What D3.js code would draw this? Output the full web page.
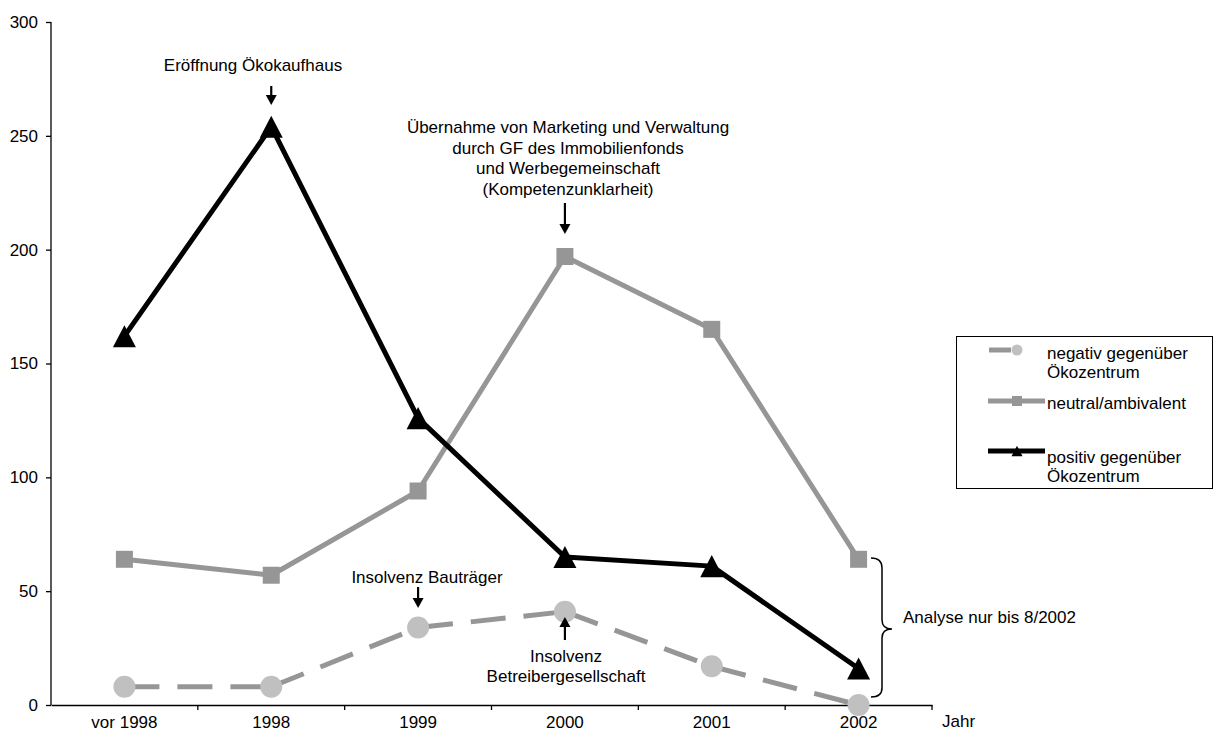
<!DOCTYPE html>
<html>
<head>
<meta charset="utf-8">
<script src="https://cdn.jsdelivr.net/npm/d3@7"></script>
<style>
  html, body { margin: 0; padding: 0; background: #fff; }
  svg { display: block; font-family: "Liberation Sans", Arial, sans-serif; }
</style>
</head>
<body>
<svg id="chart" width="1217" height="733"></svg>
<script>
// Categories and series values
const years = ["vor 1998", "1998", "1999", "2000", "2001", "2002"];
const negativ = [8, 8, 34, 41, 17, 0];
const neutral = [64, 57, 94, 197, 165, 64];
const positiv = [162, 254, 126, 65, 61, 16];
const yTicks = [0, 50, 100, 150, 200, 250, 300];

const seriesNames = {
  negativ: ["negativ gegenüber", "Ökozentrum"],
  neutral: ["neutral/ambivalent"],
  positiv: ["positiv gegenüber", "Ökozentrum"]
};

const svg = d3.select("#chart");
const FS = 17;

const x = d3.scaleBand().domain(years).range([51, 932]);
const y = d3.scaleLinear().domain([0, 300]).range([705, 22]);
const cx = d => x(d) + x.bandwidth() / 2;

// Triangle centred on its bounding box
const triType = {
  draw(ctx, size) {
    const w = Math.sqrt(size);
    const h = w * 0.96;
    ctx.moveTo(0, -h / 2);
    ctx.lineTo(w / 2, h / 2);
    ctx.lineTo(-w / 2, h / 2);
    ctx.closePath();
  }
};

// Y axis
const yAxis = d3.axisLeft(y).tickValues(yTicks).tickSize(5).tickPadding(8);
const gy = svg.append("g").attr("transform", "translate(51,0)").call(yAxis);
gy.select(".domain").attr("stroke", "#000").attr("stroke-width", 1.3).attr("d", "M0,22V705");
gy.selectAll(".tick line").attr("stroke", "#000").attr("stroke-width", 1.3);
gy.selectAll(".tick text").attr("font-size", FS).attr("font-family", "Liberation Sans, Arial, sans-serif").attr("fill", "#000");

// X axis with ticks at category boundaries
const xAxis = d3.axisBottom(x).tickSize(0).tickSizeOuter(0);
const gx = svg.append("g").attr("transform", "translate(0,705)").call(xAxis);
gx.select(".domain").attr("stroke", "#000").attr("stroke-width", 1.3);
gx.selectAll(".tick text").attr("font-size", FS).attr("font-family", "Liberation Sans, Arial, sans-serif")
  .attr("fill", "#000").attr("y", 23).attr("dy", 0);
const bounds = years.map(d => x(d)).concat([x(years[years.length - 1]) + x.bandwidth()]);
gx.selectAll(".bound").data(bounds.slice(1)).enter().append("line")
  .attr("x1", d => d).attr("x2", d => d).attr("y1", 0).attr("y2", 5)
  .attr("stroke", "#000").attr("stroke-width", 1.3);

svg.append("text").attr("x", 942).attr("y", 727).attr("font-size", FS).text("Jahr");

const line = d3.line().x((d, i) => cx(years[i])).y(d => y(d));

// negativ: dashed segments, pattern restarting at each point
const negPts = negativ.map((v, i) => [cx(years[i]), y(v)]);
svg.append("g").selectAll("path").data(d3.pairs(negPts)).enter().append("path")
  .attr("d", d => d3.line()(d))
  .attr("fill", "none").attr("stroke", "#969696").attr("stroke-width", 5)
  .attr("stroke-dasharray", "35,18");
svg.append("g").selectAll("path").data(negativ).enter().append("path")
  .attr("transform", (d, i) => `translate(${cx(years[i])},${y(d)})`)
  .attr("d", d3.symbol(d3.symbolCircle, Math.PI * 11 * 11))
  .attr("fill", "#c0c0c0");

// neutral
svg.append("path").datum(neutral).attr("d", line)
  .attr("fill", "none").attr("stroke", "#969696").attr("stroke-width", 5).attr("stroke-linejoin", "round");
svg.append("g").selectAll("path").data(neutral).enter().append("path")
  .attr("transform", (d, i) => `translate(${cx(years[i])},${y(d)})`)
  .attr("d", d3.symbol(d3.symbolSquare, 17 * 17))
  .attr("fill", "#969696");

// positiv
svg.append("path").datum(positiv).attr("d", line)
  .attr("fill", "none").attr("stroke", "#000").attr("stroke-width", 5).attr("stroke-linejoin", "round");
svg.append("g").selectAll("path").data(positiv).enter().append("path")
  .attr("transform", (d, i) => `translate(${cx(years[i])},${y(d)})`)
  .attr("d", d3.symbol(triType, 23 * 23))
  .attr("fill", "#000");

// Annotations
function arrow(xp, y1, y2) {
  const dir = Math.sign(y2 - y1);
  svg.append("line").attr("x1", xp).attr("x2", xp).attr("y1", y1).attr("y2", y2 - dir * 8)
    .attr("stroke", "#000").attr("stroke-width", 2.2);
  svg.append("path")
    .attr("d", `M${xp - 5.5},${y2 - dir * 10}L${xp + 5.5},${y2 - dir * 10}L${xp},${y2}Z`)
    .attr("fill", "#000");
}
function label(lines, xc, y0, lh) {
  const t = svg.append("text").attr("text-anchor", "middle").attr("font-size", FS);
  lines.forEach((s, i) => t.append("tspan").attr("x", xc).attr("y", y0 + i * lh).text(s));
}

label(["Eröffnung Ökokaufhaus"], 253, 71, 20);
arrow(cx("1998"), 86, 105);

label(["Übernahme von Marketing und Verwaltung", "durch GF des Immobilienfonds",
       "und Werbegemeinschaft", "(Kompetenzunklarheit)"], 568, 133, 20.5);
arrow(cx("2000"), 203, 234);

label(["Insolvenz Bauträger"], 427, 583, 20);
arrow(cx("1999"), 587, 608);

label(["Insolvenz", "Betreibergesellschaft"], 566, 662, 20);
arrow(cx("2000"), 640, 617);

// Brace
svg.append("path")
  .attr("d", "M871,558 Q882,558 882,568 L882,620 Q882,629 892,629 Q882,629 882,638 L882,688 Q882,697 871,697")
  .attr("fill", "none").attr("stroke", "#000").attr("stroke-width", 1.5);
svg.append("text").attr("x", 903).attr("y", 623).attr("font-size", FS).text("Analyse nur bis 8/2002");

// Legend
const lg = svg.append("g");
lg.append("rect").attr("x", 956.5).attr("y", 336.5).attr("width", 256).attr("height", 152)
  .attr("fill", "#fff").attr("stroke", "#000").attr("stroke-width", 1);
const legendItems = [
  { key: "negativ", ly: 350, ty: 359 },
  { key: "neutral", ly: 401, ty: 409 },
  { key: "positiv", ly: 451, ty: 463 }
];
legendItems.forEach(it => {
  const g = lg.append("g");
  if (it.key === "negativ") {
    g.append("line").attr("x1", 989).attr("x2", 1025).attr("y1", it.ly).attr("y2", it.ly)
      .attr("stroke", "#969696").attr("stroke-width", 5).attr("stroke-dasharray", "22,14");
    g.append("path").attr("transform", `translate(1017,${it.ly})`)
      .attr("d", d3.symbol(d3.symbolCircle, Math.PI * 5.5 * 5.5)).attr("fill", "#c0c0c0");
  } else if (it.key === "neutral") {
    g.append("line").attr("x1", 988).attr("x2", 1045).attr("y1", it.ly).attr("y2", it.ly)
      .attr("stroke", "#969696").attr("stroke-width", 5);
    g.append("path").attr("transform", `translate(1017,${it.ly})`)
      .attr("d", d3.symbol(d3.symbolSquare, 100)).attr("fill", "#969696");
  } else {
    g.append("line").attr("x1", 988).attr("x2", 1045).attr("y1", it.ly).attr("y2", it.ly)
      .attr("stroke", "#000").attr("stroke-width", 5);
    g.append("path").attr("transform", `translate(1017,${it.ly})`)
      .attr("d", d3.symbol(triType, 121)).attr("fill", "#000");
  }
  const t = g.append("text").attr("font-size", FS);
  seriesNames[it.key].forEach((s, i) => t.append("tspan").attr("x", 1047).attr("y", it.ty + i * 19).text(s));
});
</script>
</body>
</html>
